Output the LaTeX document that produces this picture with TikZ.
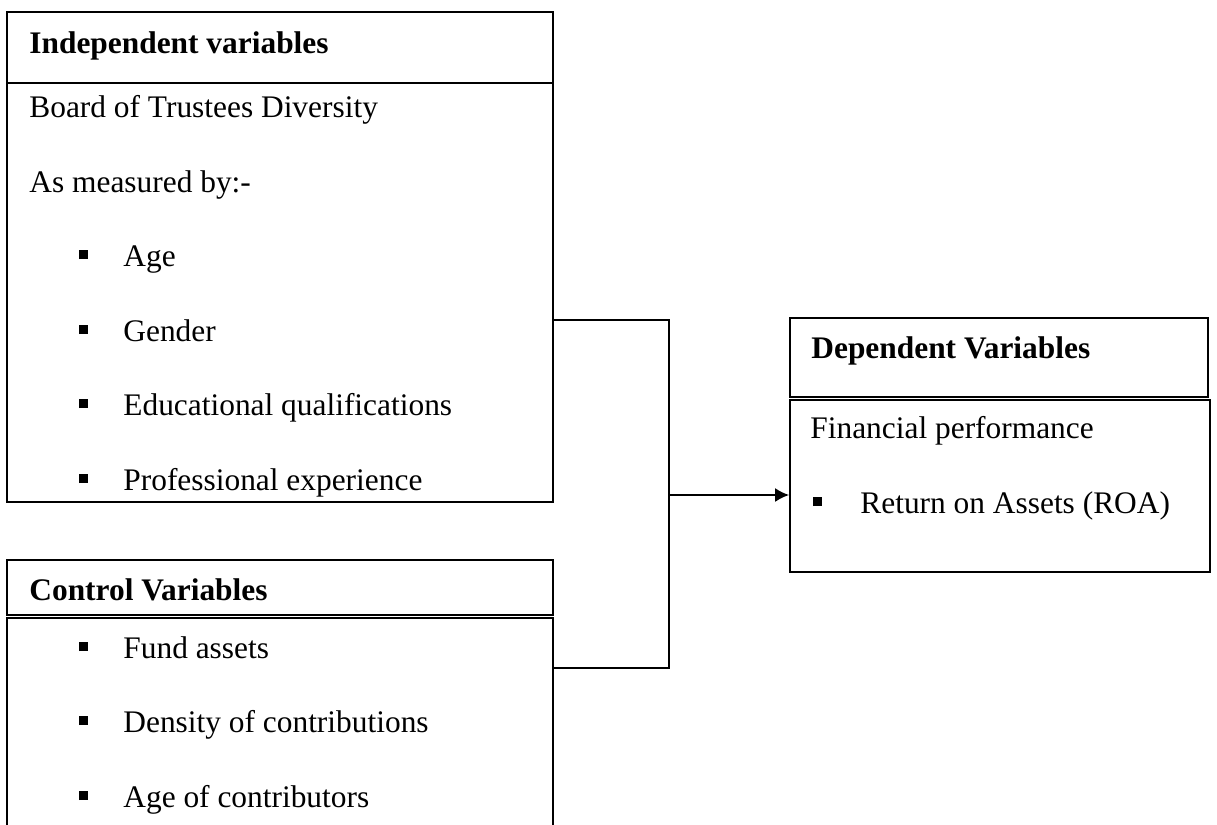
\documentclass[tikz,border=0pt]{standalone}
\usepackage{fontspec}
\setmainfont{Liberation Serif}
\usetikzlibrary{positioning, fit, calc, arrows.meta}

\tikzset{
  frame/.style={draw, line width=0.8pt, inner sep=0pt},
  txt/.style={anchor=base west, inner sep=0pt, font=\fontsize{15.7}{18}\selectfont},
  headtxt/.style={txt, font=\fontsize{15.7}{18}\selectfont\bfseries},
  link/.style={line width=0.8pt},
  flow/.style={line width=1.2pt, -{Latex[length=7pt, width=7pt]}}
}
\newcommand{\sqitem}[2][22pt]{\makebox[#1][l]{\rule[3.5pt]{4.5pt}{4.5pt}}#2}

\begin{document}
\begin{tikzpicture}[x=0.5pt, y=-0.5pt]
        \useasboundingbox (0,0) rectangle (1217,825);
        \clip (0,0) rectangle (1217,825);
        % boxes
        \node[frame, fit={(7,12) (553,83)}] (ivhead) {};
        \node[frame, fit={(7,83) (553,502)}] (ivbody) {};
        \node[frame, fit={(7,560) (553,615)}] (cvhead) {};
        \node[frame, fit={(7,618) (553,840)}] (cvbody) {};
        \node[frame, fit={(790,318) (1208,397)}] (dvhead) {};
        \node[frame, fit={(790,400) (1210,572)}] (dvbody) {};
        % texts
        \node[headtxt] (ivtitle) at (29,53) {Independent variables};
        \node[txt] (board) at (29,117) {Board of Trustees Diversity};
        \node[txt] (measured) at (29,192) {As measured by:-};
        \node[txt] (age) at (79,266) {\sqitem{Age}};
        \node[txt] (gender) at (79,341) {\sqitem{Gender}};
        \node[txt] (edu) at (79,415) {\sqitem{Educational qualifications}};
        \node[txt] (prof) at (79,490) {\sqitem{Professional experience}};
        \node[headtxt] (cvtitle) at (29,600) {Control Variables};
        \node[txt] (fund) at (79,658) {\sqitem{Fund assets}};
        \node[txt] (density) at (79,732) {\sqitem{Density of contributions}};
        \node[txt] (agecon) at (79,807) {\sqitem{Age of contributors}};
        \node[headtxt] (dvtitle) at (811,358) {Dependent Variables};
        \node[txt] (fin) at (810,438) {Financial performance};
        \node[txt] (roa) at (813,513) {\sqitem[23.5pt]{Return on Assets (ROA)}};
        % connectors
        \coordinate (jtop) at (669,320);
        \coordinate (jbot) at (669,668);
        \coordinate (jmid) at (669,495);
        \draw[link] (jtop -| ivbody.east) -- (jtop) -- (jbot) -- (jbot -| cvbody.east);
        \draw[flow] (jmid) -- (jmid -| dvbody.west);
    \end{tikzpicture}
\end{document}
